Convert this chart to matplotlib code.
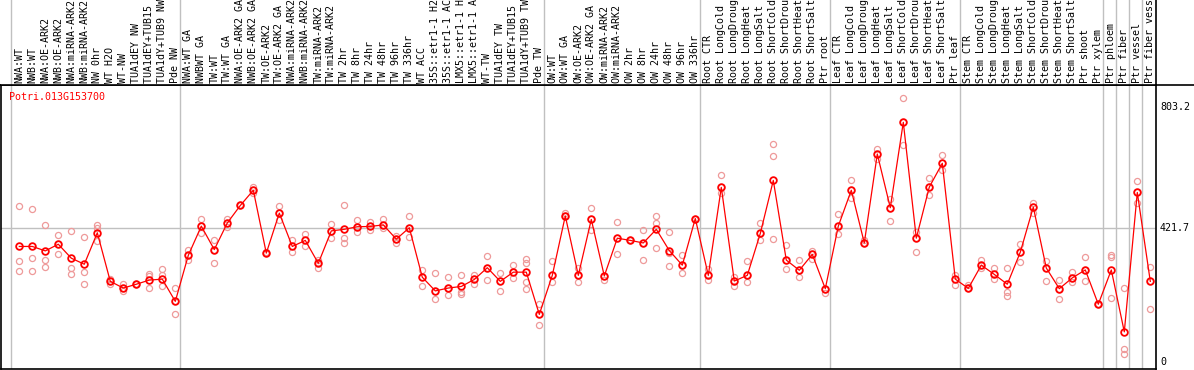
import matplotlib
matplotlib.use('Agg')
import matplotlib.pyplot as plt
from matplotlib.lines import Line2D
from matplotlib.transforms import blended_transform_factory

gene = 'Potri.013G153700'

samples = [
    'NWA:WT', 'NWB:WT', 'NWA:OE-ARK2', 'NWB:OE-ARK2', 'NWA:miRNA-ARK2', 'NWB:miRNA-ARK2',
    'NW 0hr', 'WT H2O', 'WT-NW', 'TUA1dEY NW', 'TUA1dEY+TUB15 NW', 'TUA1dY+TUB9 NW', 'Pde NW',
    'NWA:WT GA', 'NWBWT GA', 'TW:WT', 'TW:WT GA', 'NWA:OE-ARK2 GA', 'NWB:OE-ARK2 GA',
    'TW:OE-ARK2', 'TW:OE-ARK2 GA', 'NWA:miRNA-ARK2 GA', 'NWB:miRNA-ARK2 GA', 'TW:miRNA-ARK2',
    'TW:miRNA-ARK2 GA', 'TW 2hr', 'TW 8hr', 'TW 24hr', 'TW 48hr', 'TW 96hr', 'TW 336hr',
    'WT ACC', '35S::etr1-1 H2O', '35S::etr1-1 ACC', 'LMX5::etr1-1 H2O', 'LMX5::etr1-1 ACC',
    'WT-TW', 'TUA1dEY TW', 'TUA1dEY+TUB15 TW', 'TUA1dY+TUB9 TW', 'Pde TW',
    'OW:WT', 'OW:WT GA', 'OW:OE-ARK2', 'OW:OE-ARK2 GA', 'OW:miRNA-ARK2', 'OW:miRNA-ARK2 GA',
    'OW 2hr', 'OW 8hr', 'OW 24hr', 'OW 48hr', 'OW 96hr', 'OW 336hr',
    'Root CTR', 'Root LongCold', 'Root LongDrought', 'Root LongHeat', 'Root LongSalt',
    'Root ShortCold', 'Root ShortDrought', 'Root ShortHeat', 'Root ShortSalt', 'Ptr root',
    'Leaf CTR', 'Leaf LongCold', 'Leaf LongDrought', 'Leaf LongHeat', 'Leaf LongSalt',
    'Leaf ShortCold', 'Leaf ShortDrought', 'Leaf ShortHeat', 'Leaf ShortSalt', 'Ptr leaf',
    'Stem CTR', 'Stem LongCold', 'Stem LongDrought', 'Stem LongHeat', 'Stem LongSalt',
    'Stem ShortCold', 'Stem ShortDrought', 'Stem ShortHeat', 'Stem ShortSalt', 'Ptr shoot',
    'Ptr xylem', 'Ptr phloem', 'Ptr fiber', 'Ptr vessel', 'Ptr fiber vessel',
]
group_sizes = [13, 28, 12, 10, 10, 11, 1, 1, 1, 1]

means = [
    364, 364, 350, 371, 327, 308, 407, 254, 233, 245, 258, 261, 191,
    336, 428, 354, 438, 493, 541, 343, 469, 364, 383, 311, 413, 418, 426, 427, 432,
    387, 423, 267, 224, 233, 238, 260, 297, 254, 283, 283, 150,
    273, 460, 273, 449, 271, 390, 383, 375, 418, 351, 305, 452,
    273, 550, 255, 273, 405, 572, 321, 289, 339, 231,
    428, 541, 375, 655, 486, 755, 390, 551, 626, 261,
    232, 305, 276, 245, 346, 488, 296, 231, 265, 290, 182,
    290, 95, 534, 254,
]
replicates = [
    (491, 317, 287), (481, 327, 287), (431, 320, 299), (399, 339, 371), (413, 296, 276),
    (393, 283, 245), (431, 421, 381), (261, 246, 254), (246, 225, 233), (245, 245, 245),
    (276, 271, 233), (294, 274, 238), (232, 150, 191),
    (354, 322, 336), (449, 407, 428), (384, 312, 354), (452, 426, 438), (493, 493, 493),
    (552, 531, 541), (347, 343, 343), (491, 446, 469), (384, 347, 364), (403, 366, 383),
    (321, 297, 311), (435, 390, 413), (494, 390, 374), (447, 410, 426), (440, 415, 427),
    (452, 421, 432), (397, 375, 387), (460, 393, 423), (290, 238, 267), (279, 197, 224),
    (267, 212, 233), (273, 221, 214), (273, 246, 260), (333, 257, 297), (279, 224, 254),
    (305, 264, 283), (323, 313, 253, 230), (183, 117, 150),
    (318, 253, 273), (470, 460, 460), (297, 252, 273), (484, 415, 449), (258, 271, 271),
    (441, 339, 390), (383, 383, 383), (416, 320, 375), (461, 437, 358), (408, 342, 301),
    (337, 279, 305), (452, 452, 452),
    (294, 259, 273), (589, 531, 550), (269, 238, 255), (318, 253, 273), (439, 383, 405),
    (686, 649, 387), (367, 294, 321), (321, 269, 289), (349, 324, 339), (216, 231, 231),
    (465, 403, 428), (572, 516, 541), (384, 375, 375), (672, 639, 655), (512, 444, 486),
    (830, 682, 755), (410, 347, 390), (579, 526, 551), (651, 605, 626), (273, 243, 261),
    (243, 232, 232), (322, 295, 305), (295, 261, 276), (296, 221, 209), (372, 315, 346),
    (502, 468, 488), (318, 255, 296), (258, 197, 231), (284, 253, 265), (330, 255, 290),
    (182, 182, 182), (337, 330, 202), (232, 40, 24), (569, 500, 534), (299, 166, 254),
]
y_ticks = [0, 421.7, 803.2]

W, H = 1194, 370
fig = plt.figure(figsize=(W / 100, H / 100), dpi=100)

x0, x1, ytop, ybot = 1, 1156, 85, 369
ax = fig.add_axes([x0 / W, (H - ybot) / H, (x1 - x0) / W, (ybot - ytop) / H])
axh = fig.add_axes([x0 / W, (H - ytop) / H, (x1 - x0) / W, ytop / H])

# pixel layout: first sample at 19.3px, 13px per sample
step, first = 13.0, 19.3
xlim = ((x0 - first) / step, (x1 - first) / step)
ylim = (-22, 872.5)
for a in (ax, axh):
    a.set_xlim(xlim)
    a.set_xticks([])
    a.set_yticks([])
ax.set_ylim(ylim)
axh.set_ylim(0, 1)
for s in ('top', 'left', 'right'):
    axh.spines[s].set_visible(False)
axh.spines['bottom'].set_linewidth(1.2)
for s in ax.spines.values():
    s.set_linewidth(1.2)

grey = '#c0c0c0'
pos = -0.64
seps = [pos]
for n in group_sizes:
    pos += n
    seps.append(pos)
for sx in seps[:-1]:
    ax.axvline(sx, color=grey, lw=1, zorder=0)
    axh.axvline(sx, color=grey, lw=1, zorder=0)

ax.axhline(y_ticks[1], color=grey, lw=1, zorder=0)

xs = list(range(len(samples)))
for i, reps in enumerate(replicates):
    ax.plot([i] * len(reps), reps, 'o', ms=4.4, mfc='none', mec='#ee9a9a', mew=0.9, zorder=2)
ax.plot(xs, means, '-', color='red', lw=0.9, zorder=3)
ax.plot(xs, means, 'o', ms=4.8, mfc='none', mec='red', mew=1.3, zorder=4)

tr = blended_transform_factory(axh.transData, axh.transAxes)
for i, lab in enumerate(samples):
    axh.text(i, 2 / ytop, lab, rotation=90, ha='center', va='bottom', transform=tr,
             family='DejaVu Sans Mono', fontsize=7.2, clip_on=False)

fig.text(9 / W, (H - 97) / H, gene, color='red', ha='left', va='center',
         family='DejaVu Sans Mono', fontsize=7.2)

trr = blended_transform_factory(fig.transFigure, ax.transData)
for v in y_ticks:
    fig.text(1160 / W, 0, '%g' % v, transform=trr, ha='left', va='center',
             family='DejaVu Sans Mono', fontsize=7.2)
    fig.texts[-1].set_position((1160 / W, v))

fig.add_artist(Line2D([x1 / W, 1], [(H - ytop) / H] * 2, color='black', lw=1.2))
fig.add_artist(Line2D([x1 / W] * 2, [(H - ytop) / H, 1], color='black', lw=1.2))

fig.savefig('out.png', dpi=100)
